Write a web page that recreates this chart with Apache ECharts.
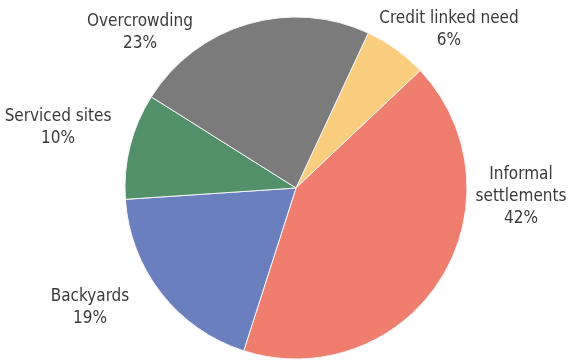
<!DOCTYPE html>
<html>
<head>
<meta charset="utf-8">
<script src="https://cdn.jsdelivr.net/npm/echarts@6/dist/echarts.min.js"></script>
<style>
html,body{margin:0;padding:0;background:#fff;}
#chart{width:573px;height:363px;}
</style>
</head>
<body>
<div id="chart"></div>
<script>
const categories = ['Credit linked need', 'Informal\nsettlements', 'Backyards', 'Serviced sites', 'Overcrowding'];
const values = [6, 42, 19, 10, 23];
const colors = ['#fbcd7f', '#ef7e6e', '#6b7ebd', '#52906a', '#7b7b7b'];

// label anchor positions (layout only)
const labelPos = [[449, 30], [521, 197], [90, 308], [58, 128], [140, 33]];

const chart = echarts.init(document.getElementById('chart'), null, {renderer: 'canvas'});
chart.setOption({
  animation: false,
  series: [{
    type: 'pie',
    center: [296, 188],
    radius: 171,
    startAngle: 65,
    clockwise: true,
    avoidLabelOverlap: false,
    data: categories.map((c, i) => ({name: c, value: values[i], itemStyle: {color: colors[i]}})),
    itemStyle: {borderColor: '#f4f4f4', borderWidth: 1},
    label: {
      show: true,
      position: 'outside',
      formatter: '{b}\n{c}%',
      fontFamily: '"Liberation Sans Narrow", "DejaVu Sans Condensed", sans-serif',
      fontSize: 17,
      lineHeight: 22,
      color: '#3a3a3a',
      align: 'center',
      overflow: 'none',
      width: 200
    },
    labelLine: {show: false},
    labelLayout: function (params) {
      const p = labelPos[params.dataIndex];
      return {x: p[0], y: p[1], align: 'center', verticalAlign: 'middle'};
    },
    emphasis: {disabled: true}
  }]
});
</script>
</body>
</html>
